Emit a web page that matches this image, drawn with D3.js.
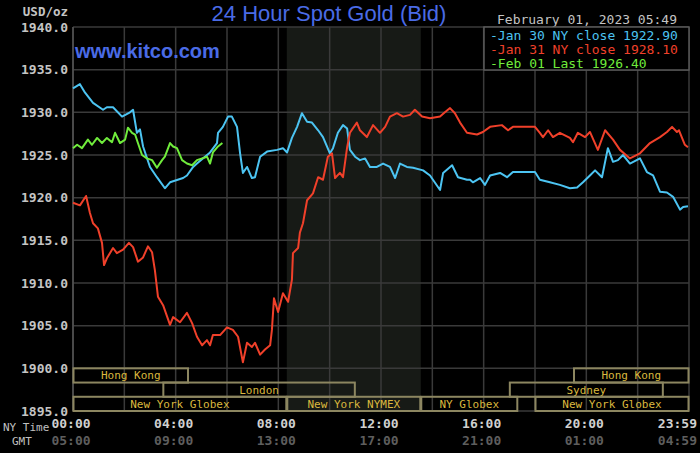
<!DOCTYPE html>
<html>
<head>
<meta charset="utf-8">
<script src="https://cdn.jsdelivr.net/npm/d3@7"></script>
<style>
  body { margin: 0; background: #000; }
  svg { display: block; }
  .mono { font-family: "DejaVu Sans Mono", "Liberation Mono", monospace; }
</style>
</head>
<body>
<div id="chart"></div>
<script>
/* Hours after 00:00 NY time, price in USD/oz */
var jan30Hours = [0, 0.27, 0.47, 0.78, 1.17, 1.32, 1.56, 1.91, 2.22, 2.34, 2.49, 2.61, 2.73, 3.0, 3.27, 3.58, 3.78, 4.29, 4.44, 4.68, 4.83, 5.06, 5.34, 5.61, 5.65, 5.84, 6.04, 6.19, 6.39, 6.51, 6.62, 6.78, 6.97, 7.09, 7.29, 7.56, 7.95, 8.18, 8.34, 8.53, 8.73, 8.92, 9.12, 9.31, 9.55, 9.74, 10.01, 10.13, 10.32, 10.52, 10.68, 10.79, 10.99, 11.18, 11.38, 11.57, 11.84, 12.08, 12.35, 12.55, 12.74, 13.01, 13.25, 13.64, 13.91, 14.3, 14.42, 14.77, 15.0, 15.35, 15.47, 15.58, 15.86, 16.05, 16.25, 16.64, 16.91, 17.14, 18.0, 18.19, 18.58, 18.97, 19.36, 19.64, 19.87, 20.14, 20.34, 20.61, 20.84, 21.04, 21.23, 21.43, 21.7, 22.09, 22.36, 22.6, 22.87, 23.14, 23.38, 23.65, 23.77, 23.96];
var jan30Price = [1932.8, 1933.3, 1932.3, 1931.1, 1930.3, 1930.6, 1930.6, 1929.5, 1930.0, 1930.3, 1927.6, 1928.0, 1926.0, 1923.6, 1922.4, 1921.1, 1921.8, 1922.3, 1922.6, 1923.6, 1924.0, 1924.6, 1925.3, 1926.4, 1927.6, 1928.3, 1929.5, 1929.5, 1928.3, 1925.2, 1922.9, 1923.6, 1922.3, 1922.4, 1924.8, 1925.4, 1925.6, 1925.8, 1925.3, 1927.0, 1928.3, 1929.9, 1928.9, 1928.8, 1927.9, 1927.1, 1925.2, 1925.8, 1927.6, 1928.5, 1928.1, 1925.6, 1924.8, 1924.4, 1924.6, 1923.6, 1923.6, 1924.0, 1923.6, 1922.3, 1924.0, 1923.6, 1923.5, 1923.2, 1922.6, 1920.9, 1922.9, 1923.8, 1922.4, 1922.1, 1922.1, 1921.8, 1922.3, 1921.5, 1922.6, 1922.9, 1922.4, 1923.0, 1923.0, 1922.1, 1921.8, 1921.5, 1921.1, 1921.2, 1921.8, 1922.6, 1923.2, 1922.4, 1925.8, 1924.2, 1924.4, 1925.0, 1924.0, 1924.6, 1923.0, 1922.6, 1920.7, 1920.6, 1920.1, 1918.6, 1918.9, 1919.0];

var jan31Hours = [0, 0.27, 0.51, 0.66, 0.78, 0.97, 1.13, 1.21, 1.32, 1.56, 1.71, 1.95, 2.18, 2.34, 2.53, 2.73, 2.92, 3.08, 3.19, 3.31, 3.51, 3.78, 3.9, 4.17, 4.44, 4.64, 4.83, 5.03, 5.22, 5.34, 5.45, 5.73, 6.0, 6.23, 6.43, 6.62, 6.78, 6.97, 7.09, 7.29, 7.48, 7.68, 7.75, 7.83, 7.99, 8.18, 8.38, 8.53, 8.57, 8.77, 8.84, 8.96, 9.12, 9.35, 9.55, 9.74, 9.93, 10.09, 10.21, 10.4, 10.52, 10.68, 10.79, 11.06, 11.18, 11.45, 11.69, 11.96, 12.16, 12.35, 12.62, 12.86, 13.13, 13.32, 13.6, 13.91, 14.3, 14.49, 14.69, 14.88, 15.08, 15.35, 15.74, 15.97, 16.25, 16.71, 16.95, 17.14, 18.0, 18.19, 18.31, 18.51, 18.7, 18.97, 19.36, 19.48, 19.67, 19.95, 20.14, 20.45, 20.73, 21.04, 21.31, 21.7, 22.09, 22.48, 22.87, 23.14, 23.34, 23.53, 23.61, 23.84, 23.96];
var jan31Price = [1919.4, 1919.1, 1920.2, 1918.2, 1917.0, 1916.4, 1914.7, 1912.1, 1912.9, 1914.1, 1913.5, 1913.9, 1914.7, 1914.2, 1912.5, 1913.0, 1914.3, 1913.6, 1911.5, 1908.4, 1907.4, 1905.1, 1906.0, 1905.4, 1906.5, 1905.3, 1903.7, 1902.7, 1903.3, 1902.7, 1903.9, 1903.9, 1904.8, 1904.5, 1903.7, 1900.7, 1903.0, 1902.5, 1903.0, 1901.6, 1902.2, 1902.7, 1904.5, 1908.2, 1906.6, 1908.8, 1907.8, 1910.4, 1913.5, 1914.1, 1915.9, 1917.0, 1919.7, 1920.5, 1922.4, 1922.1, 1924.8, 1925.2, 1922.3, 1922.9, 1922.4, 1925.9, 1927.6, 1928.8, 1927.9, 1927.1, 1928.5, 1927.6, 1928.3, 1929.5, 1929.9, 1929.5, 1929.7, 1930.3, 1929.5, 1929.3, 1929.5, 1930.0, 1930.5, 1929.9, 1928.8, 1927.6, 1927.4, 1927.7, 1928.3, 1928.5, 1927.9, 1928.3, 1928.3, 1927.6, 1927.1, 1927.9, 1927.1, 1927.6, 1927.0, 1926.5, 1927.6, 1927.1, 1927.7, 1925.6, 1927.9, 1926.8, 1925.6, 1924.6, 1925.2, 1926.4, 1927.1, 1927.7, 1928.3, 1927.7, 1927.9, 1926.2, 1925.9];

var feb01Hours = [0, 0.16, 0.35, 0.58, 0.74, 0.94, 1.13, 1.32, 1.52, 1.64, 1.83, 2.03, 2.14, 2.3, 2.42, 2.53, 2.69, 2.88, 3.08, 3.27, 3.47, 3.58, 3.78, 3.9, 4.05, 4.25, 4.44, 4.64, 4.83, 5.03, 5.22, 5.34, 5.45, 5.65, 5.82];
var feb01Price = [1925.8, 1926.2, 1925.8, 1926.8, 1926.2, 1927.0, 1926.4, 1927.0, 1926.5, 1927.6, 1926.4, 1926.8, 1928.2, 1927.6, 1927.4, 1926.4, 1925.0, 1924.6, 1924.4, 1923.5, 1924.4, 1924.8, 1926.4, 1926.0, 1925.8, 1924.4, 1924.0, 1923.8, 1924.4, 1924.6, 1924.8, 1924.0, 1925.3, 1926.0, 1926.4];

var priceTicks = [1940, 1935, 1930, 1925, 1920, 1915, 1910, 1905, 1900, 1895];
var nyTimeLabels = ["00:00", "04:00", "08:00", "12:00", "16:00", "20:00", "23:59"];
var gmtLabels = ["05:00", "09:00", "13:00", "17:00", "21:00", "01:00", "04:59"];
var labelHours = [0, 4, 8, 12, 16, 20, 24];

var legendTexts = ["-Jan 30 NY close 1922.90", "-Jan 31 NY close 1928.10", "-Feb 01 Last 1926.40"];

var sessionNames = ["Hong Kong", "Hong Kong", "London", "Sydney", "New York Globex", "New York NYMEX", "NY Globex", "New York Globex"];
var sessionStart = [0, 19.5, 3.5, 17, 0, 8.33, 13.55, 18];
var sessionEnd   = [4.5, 24, 11, 23, 8.33, 13.55, 17.33, 24];
var sessionRow   = [0, 0, 1, 1, 2, 2, 2, 2];

/* NYMEX pit hours, shaded */
var nymexStart = 8.33, nymexEnd = 13.55;

var width = 700, height = 453;
var plotLeft = 73, plotRight = 689, plotTop = 27, plotBottom = 411;

var colors = ["#4cc4f2", "#f0402a", "#70ec3c"];

var svg = d3.select("#chart").append("svg")
    .attr("width", width)
    .attr("height", height)
    .style("background", "#000");

var x = d3.scaleLinear().domain([0, 24]).range([plotLeft, plotRight]);
var y = d3.scaleLinear().domain([1895, 1940]).range([plotBottom, plotTop]);

/* shaded NYMEX band */
svg.append("rect")
    .attr("x", x(nymexStart))
    .attr("y", plotTop)
    .attr("width", x(nymexEnd) - x(nymexStart))
    .attr("height", plotBottom - plotTop)
    .attr("fill", "#171a16");

/* grid */
svg.append("g").selectAll("line").data(d3.range(0, 25, 2)).join("line")
    .attr("x1", function (d) { return x(d); })
    .attr("x2", function (d) { return x(d); })
    .attr("y1", plotTop).attr("y2", plotBottom)
    .attr("stroke", "#3a3a3a").attr("stroke-width", 1.5);

svg.append("g").selectAll("line").data(priceTicks).join("line")
    .attr("x1", plotLeft).attr("x2", plotRight)
    .attr("y1", function (d) { return y(d); })
    .attr("y2", function (d) { return y(d); })
    .attr("stroke", "#3a3a3a").attr("stroke-width", 1.5);

/* left border */
svg.append("line")
    .attr("x1", plotLeft).attr("x2", plotLeft)
    .attr("y1", plotTop).attr("y2", plotBottom)
    .attr("stroke", "#555").attr("stroke-width", 1.5);

/* price labels */
svg.append("g").selectAll("text").data(priceTicks).join("text")
    .attr("class", "mono")
    .attr("x", 68)
    .attr("y", function (d) { return y(d); })
    .attr("dy", "0.36em")
    .attr("text-anchor", "end")
    .attr("font-size", 13)
    .attr("font-weight", "bold")
    .attr("fill", "#c4c4c4")
    .text(function (d) { return d.toFixed(1); });

svg.append("text")
    .attr("class", "mono")
    .attr("x", 68).attr("y", 16)
    .attr("text-anchor", "end")
    .attr("font-size", 12.5)
    .attr("font-weight", "bold")
    .attr("fill", "#c4c4c4")
    .text("USD/oz");

/* trading sessions */
var rowH = (plotBottom - y(1900)) / 3;
var sessions = sessionNames.map(function (n, i) {
    return { name: n, start: sessionStart[i], end: sessionEnd[i], row: sessionRow[i] };
});

var sess = svg.append("g").selectAll("g").data(sessions).join("g");
sess.append("rect")
    .attr("x", function (d) { return x(d.start) + 0.5; })
    .attr("y", function (d) { return y(1900) + d.row * rowH; })
    .attr("width", function (d) { return x(d.end) - x(d.start) - 1; })
    .attr("height", rowH)
    .attr("fill", "none")
    .attr("stroke", "#8c8660")
    .attr("stroke-width", 2);
sess.append("text")
    .attr("class", "mono")
    .attr("x", function (d) { return (x(d.start) + x(d.end)) / 2; })
    .attr("y", function (d) { return y(1900) + (d.row + 0.5) * rowH; })
    .attr("dy", "0.36em")
    .attr("text-anchor", "middle")
    .attr("font-size", 11)
    .attr("fill", "#dab83e")
    .text(function (d) { return d.name; });

/* price lines */
var plot = svg.append("g");
var line = d3.line()
    .x(function (d) { return x(d[0]); })
    .y(function (d) { return y(d[1]); });

var series = [
    d3.zip(jan30Hours, jan30Price),
    d3.zip(jan31Hours, jan31Price),
    d3.zip(feb01Hours, feb01Price)
];

plot.selectAll("path").data(series).join("path")
    .attr("d", line)
    .attr("fill", "none")
    .attr("stroke", function (d, i) { return colors[i]; })
    .attr("stroke-width", 2)
    .attr("stroke-linejoin", "round");

/* time axis */
svg.append("g").selectAll("text").data(labelHours).join("text")
    .attr("class", "mono")
    .attr("x", function (d, i) { return i == labelHours.length - 1 ? 697 : x(d) - 2; })
    .attr("y", 428)
    .attr("text-anchor", function (d, i) { return i == labelHours.length - 1 ? "end" : "middle"; })
    .attr("font-size", 13)
    .attr("font-weight", "bold")
    .attr("fill", "#d0d0d0")
    .text(function (d, i) { return nyTimeLabels[i]; });

svg.append("g").selectAll("text").data(labelHours).join("text")
    .attr("class", "mono")
    .attr("x", function (d, i) { return i == labelHours.length - 1 ? 697 : x(d) - 2; })
    .attr("y", 445)
    .attr("text-anchor", function (d, i) { return i == labelHours.length - 1 ? "end" : "middle"; })
    .attr("font-size", 13)
    .attr("font-weight", "bold")
    .attr("fill", "#5e5e5e")
    .text(function (d, i) { return gmtLabels[i]; });

svg.append("text")
    .attr("class", "mono")
    .attr("x", 3).attr("y", 431)
    .attr("font-size", 11)
    .attr("fill", "#c0c0c0")
    .text("NY Time");

svg.append("text")
    .attr("class", "mono")
    .attr("x", 12).attr("y", 445)
    .attr("font-size", 11)
    .attr("fill", "#c0c0c0")
    .text("GMT");

/* titles */
svg.append("text")
    .attr("x", 329).attr("y", 21)
    .attr("text-anchor", "middle")
    .attr("font-family", "Liberation Sans, Arial, sans-serif")
    .attr("font-size", 22)
    .attr("fill", "#4a6be6")
    .text("24 Hour Spot Gold (Bid)");

svg.append("text")
    .attr("x", 75).attr("y", 58)
    .attr("font-family", "Liberation Sans, Arial, sans-serif")
    .attr("font-size", 20)
    .attr("font-weight", "bold")
    .attr("fill", "#4a6be6")
    .text("www.kitco.com");

svg.append("text")
    .attr("class", "mono")
    .attr("x", 677).attr("y", 24)
    .attr("text-anchor", "end")
    .attr("font-size", 13)
    .attr("fill", "#c4c4c4")
    .text("February 01, 2023 05:49");

/* legend */
var legend = svg.append("g");
legend.append("rect")
    .attr("x", 484).attr("y", 27)
    .attr("width", plotRight - 484).attr("height", 43)
    .attr("fill", "#000")
    .attr("stroke", "#5a5a5a")
    .attr("stroke-width", 1.5);
legend.selectAll("text").data(legendTexts).join("text")
    .attr("class", "mono")
    .attr("x", 490)
    .attr("y", function (d, i) { return 35 + i * 14; })
    .attr("dy", "0.36em")
    .attr("font-size", 13)
    .attr("fill", function (d, i) { return colors[i]; })
    .text(function (d) { return d; });
</script>
</body>
</html>
